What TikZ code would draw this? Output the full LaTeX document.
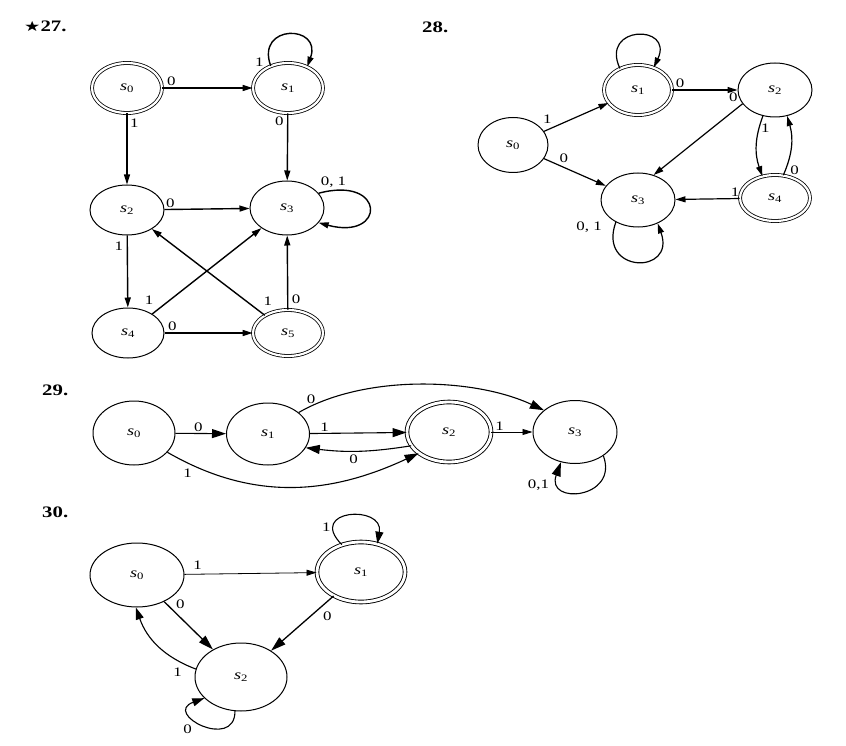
\documentclass[tikz,border=0pt]{standalone}
\usepackage{fontspec}
\usepackage{graphicx}
\setmainfont{Liberation Serif}[FakeStretch=1.3]
\newfontfamily\symfont{DejaVu Sans}[FakeStretch=1.3]
\usetikzlibrary{shapes.geometric,arrows.meta}
\newcommand{\sx}[1]{\textit{s}\textsubscript{#1}}
\tikzset{
  st/.style={ellipse, draw, line width=1pt, inner sep=0pt, font=\fontsize{14}{14}\selectfont},
  acc/.style={st, double, double distance=2.2pt, line width=0.8pt},
  acctwo/.style={st, double, double distance=2.8pt, line width=0.9pt},
  lab/.style={font=\fontsize{13}{13}\selectfont, inner sep=1.5pt},
  ttl/.style={font=\fontsize{16}{16}\selectfont\bfseries, inner sep=0pt, anchor=west},
  esev/.style={line width=1.4pt, -{Triangle[length=10pt,width=6pt]}},
  eeig/.style={line width=1.2pt, -{Triangle[length=10pt,width=6pt]}},
  enin/.style={line width=1.1pt, -{Triangle[length=14pt,width=9pt]}},
  eninthin/.style={line width=0.8pt, -{Triangle[length=10pt,width=6pt]}},
  ethi/.style={line width=1.3pt, -{Triangle[length=15pt,width=9pt]}},
  ethimid/.style={line width=1.1pt, -{Triangle[length=12pt,width=8pt]}},
  ethithin/.style={line width=0.8pt, -{Triangle[length=10pt,width=6pt]}},
}
\begin{document}
\begin{tikzpicture}[x=1pt,y=-1pt]
\useasboundingbox (0,0) rectangle (846,746);
% ---------------- 27 ----------------
\node[ttl] (t27) at (24,26) {{\symfont\fontsize{14}{14}\selectfont ★}27.};
\node[acc, minimum width=70pt, minimum height=50pt] (a0) at (127,88) {\sx{0}};
\node[acc, minimum width=70pt, minimum height=50pt] (a1) at (288,88) {\sx{1}};
\node[st, minimum width=74pt, minimum height=50pt] (a2) at (127,210) {\sx{2}};
\node[st, minimum width=74pt, minimum height=54pt] (a3) at (287,208) {\sx{3}};
\node[st, minimum width=72pt, minimum height=50pt] (a4) at (128,333) {\sx{4}};
\node[acc, minimum width=70pt, minimum height=46pt] (a5) at (288,333) {\sx{5}};
\draw[esev] (a0) -- node[lab,pos=0.1,above]{0} (a1);
\draw[esev] (a0) -- node[lab,pos=0.14,right,xshift=1pt]{1} (a2);
\draw[esev] (a1) -- node[lab,pos=0.12,left,xshift=-2pt]{0} (a3);
\draw[esev] (a1.128) .. controls +(110:45pt) and +(70:45pt) .. node[lab,pos=0,left,xshift=-5pt,yshift=4pt]{1} (a1.48);
\draw[esev] (a3.25) .. controls +(15:70pt) and +(-15:70pt) .. node[lab,pos=0,above right,yshift=4pt]{0, 1} (a3.-25);
\draw[esev] (a2) -- node[lab,pos=0.07,above]{0} (a3);
\draw[esev] (a2) -- node[lab,pos=0.15,left,xshift=-2pt]{1} (a4);
\draw[esev] (a4) -- node[lab,pos=0.03,above left,yshift=5pt]{1} (a3);
\draw[esev] (a5) -- node[lab,pos=0.03,above right,yshift=5pt]{1} (a2);
\draw[esev] (a5) -- node[lab,pos=0.14,right,xshift=2pt]{0} (a3);
\draw[esev] (a4) -- node[lab,pos=0.09,above]{0} (a5);
% ---------------- 28 ----------------
\node[ttl] (t28) at (422,27) {28.};
\node[st, minimum width=70pt, minimum height=55pt] (b0) at (513,145) {\sx{0}};
\node[acc, minimum width=68pt, minimum height=50pt] (b1) at (638,90) {\sx{1}};
\node[st, minimum width=74pt, minimum height=54pt] (b2) at (775,90) {\sx{2}};
\node[st, minimum width=74pt, minimum height=54pt] (b3) at (638,200) {\sx{3}};
\node[acc, minimum width=70pt, minimum height=46pt] (b4) at (775,198) {\sx{4}};
\draw[eeig] (b1.130) .. controls +(115:48pt) and +(65:48pt) .. (b1.55);
\draw[eeig] (b0) -- node[lab,pos=0.05,above,yshift=4pt]{1} (b1);
\draw[eeig] (b0) -- node[lab,pos=0.22,above right]{0} (b3);
\draw[eeig] (b1) -- node[lab,pos=0.12,above]{0} (b2);
\draw[eeig] (b2.203) -- node[lab,pos=0,above left,xshift=-3pt]{0} (b3.58);
\draw[eeig] (b2.-115) to[bend right=20] node[lab,pos=0.2,right]{1} (b4.120);
\draw[eeig] (b4.70) to[bend right=20] node[lab,pos=0.08,right,xshift=3pt]{0} (b2.-65);
\draw[eeig] (b4) -- node[lab,pos=0.07,above]{1} (b3);
\draw[eeig] (b3.-135) .. controls +(-110:55pt) and +(-70:55pt) .. node[lab,pos=0,left,xshift=-12pt,yshift=-5pt]{0, 1} (b3.-50);
% ---------------- 29 ----------------
\node[ttl] (t29) at (42,390) {29.};
\node[st, minimum width=82pt, minimum height=64pt] (c0) at (134,433) {\sx{0}};
\node[st, minimum width=83pt, minimum height=62pt] (c1) at (268,434) {\sx{1}};
\node[acctwo, minimum width=84pt, minimum height=60pt] (c2) at (449,432) {\sx{2}};
\node[st, minimum width=84pt, minimum height=63pt] (c3) at (575,432) {\sx{3}};
\draw[enin] (c0) -- node[lab,pos=0.45,above]{0} (c1);
\draw[enin] (c1) -- node[lab,pos=0.15,above]{1} (c2);
\draw[enin] (c2.-160) to[bend left=8] node[lab,pos=0.55,below,yshift=-2pt]{0} (c1.-20);
\draw[eninthin] (c2) -- node[lab,pos=0.2,above]{1} (c3);
\draw[enin] (c1.35) to[out=30,in=155,looseness=0.8] node[lab,pos=0.06,above]{0} (c3.145);
\draw[enin] (c0.-30) to[out=-30,in=-155] node[lab,pos=0.08,below,yshift=-4pt]{1} (c2.-145);
\draw[enin] (c3.-40) .. controls +(-70:46pt) and +(-110:46pt) .. node[lab,pos=0.75,left,xshift=-12pt]{0,1} (c3.-115);
% ---------------- 30 ----------------
\node[ttl] (t30) at (42,512) {30.};
\node[st, minimum width=94pt, minimum height=64pt] (d0) at (137,575) {\sx{0}};
\node[acctwo, minimum width=88pt, minimum height=60pt] (d1) at (361,572) {\sx{1}};
\node[st, minimum width=92pt, minimum height=68pt] (d2) at (241,677) {\sx{2}};
\draw[ethithin] (d0) -- node[lab,pos=0.1,above,yshift=3pt]{1} (d1);
\draw[ethi] (d0) -- node[lab,pos=0.2,above right]{0} (d2);
\draw[ethi] (d1) -- node[lab,pos=0.25,below right,xshift=3pt]{0} (d2);
\draw[ethimid] (d2.170) to[bend left=25] node[lab,pos=0.02,left,xshift=-10pt,yshift=-4pt]{1} (d0.-92);
\draw[ethimid] (d1.125) .. controls +(135:50pt) and +(80:40pt) .. node[lab,pos=0.2,left]{1} (d1.60);
\draw[ethimid] (d2.-100) .. controls +(-90:40pt) and +(-160:45pt) .. node[lab,pos=0.45,left,xshift=-14pt,yshift=-2pt]{0} (d2.-150);
\end{tikzpicture}
\end{document}
